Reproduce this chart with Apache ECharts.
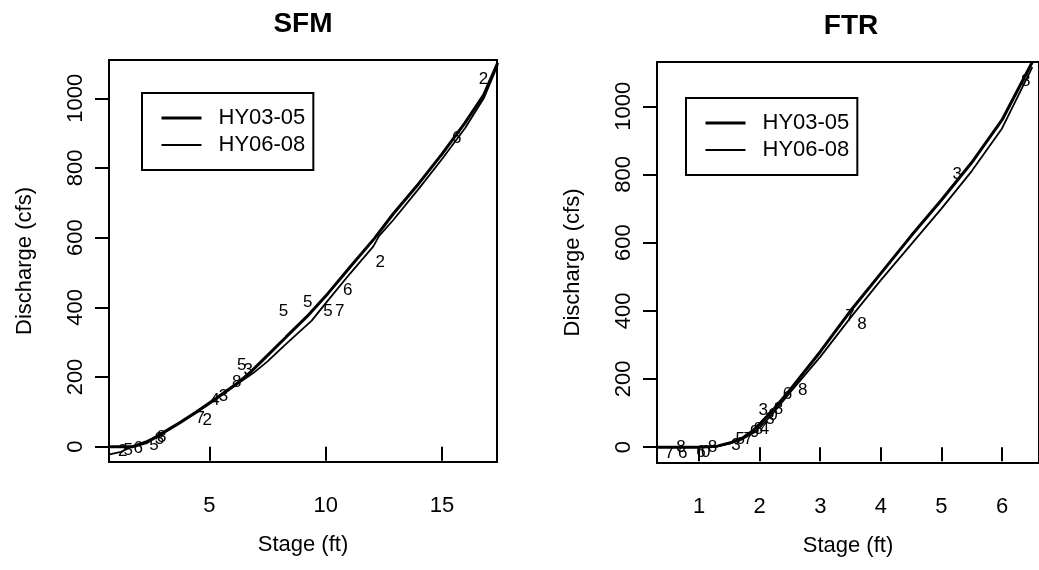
<!DOCTYPE html>
<html>
<head>
<meta charset="utf-8">
<script src="https://cdn.jsdelivr.net/npm/echarts@6/dist/echarts.min.js"></script>
<style>
html, body { margin: 0; padding: 0; background: #fff; }
#chart { width: 1039px; height: 570px; }
</style>
</head>
<body>
<div id="chart"></div>
<script>
var FONT = '"Liberation Sans", Arial, Helvetica, sans-serif';

var seriesNames = ['HY03-05', 'HY06-08'];
var lineWidths = [3, 1.8];
var panelTitles = ['SFM', 'FTR'];
var axisTitleX = 'Stage (ft)';
var axisTitleY = 'Discharge (cfs)';

// tick labels
var sfmStageTicks = [5, 10, 15];
var ftrStageTicks = [1, 2, 3, 4, 5, 6];
var dischargeTicks = [0, 200, 400, 600, 800, 1000];

// SFM rating curves [stage, discharge]
var sfm0305 = [[0.7, 0], [1.7, 0], [2.3, 12], [2.9, 36], [3.7, 68], [4.45, 100], [5.2, 135],
  [6.2, 182], [6.8, 216], [7.5, 262], [8.3, 315], [9.2, 374], [10.1, 440], [11.05, 516],
  [12.1, 598], [12.9, 668], [14, 755], [15, 840], [16, 930], [16.8, 1010], [17.4, 1102]];
var sfm0608 = [[0.7, -22], [1.2, -15], [1.7, 2], [2.3, 16], [2.9, 34], [3.7, 66], [4.45, 98],
  [5.2, 132], [6.2, 180], [6.9, 212], [7.5, 245], [8.3, 295], [9.4, 362], [10.1, 420],
  [11.05, 497], [12.05, 575], [12.3, 605], [12.9, 650], [14, 740], [15, 825], [16, 915],
  [16.8, 1000], [17.4, 1095]];
// SFM measurements [stage, discharge, year digit]
var sfmPts = [[1.27, -13, '2'], [1.51, -11, '5'], [1.94, -6, '6'], [2.62, 3, '5'],
  [2.85, 22, '3'], [2.95, 28, '8'], [4.6, 80, '7'], [4.91, 76, '2'], [5.24, 133, '4'],
  [5.6, 145, '3'], [6.17, 186, '8'], [6.39, 234, '5'], [6.67, 219, '3'], [8.19, 389, '5'],
  [9.23, 415, '5'], [10.1, 389, '5'], [10.6, 389, '7'], [10.95, 449, '6'], [12.35, 530, '2'],
  [15.64, 885, '6'], [16.79, 1054, '2']];

// FTR rating curves [stage, discharge]
var ftr0305 = [[0.3, 0], [1.0, 0], [1.3, 3], [1.5, 12], [1.7, 25], [1.9, 50], [2.0, 68],
  [2.2, 105], [2.5, 168], [3.0, 280], [3.5, 400], [4.0, 510], [4.5, 620], [5.0, 725],
  [5.5, 835], [6.0, 960], [6.5, 1130]];
var ftr0608 = [[0.3, 0], [1.0, 0], [1.3, 2], [1.5, 10], [1.7, 22], [1.9, 42], [2.0, 58],
  [2.2, 95], [2.5, 160], [3.0, 265], [3.5, 380], [4.0, 490], [4.5, 595], [5.0, 700],
  [5.5, 810], [6.0, 935], [6.5, 1115]];
// FTR measurements [stage, discharge, year digit]
var ftrPts = [[0.51, -17, '7'], [0.7, 0, '8'], [0.73, -17, '6'], [1.03, -15, '6'],
  [1.11, -15, '0'], [1.22, 0, '8'], [1.61, 4, '3'], [1.68, 23, '5'], [1.81, 23, '7'],
  [1.92, 43, '9'], [1.98, 53, '8'], [2.08, 53, '4'], [2.06, 107, '3'], [2.17, 82, '3'],
  [2.22, 94, '0'], [2.31, 110, '8'], [2.46, 156, '6'], [2.71, 168, '8'], [3.49, 384, '7'],
  [3.69, 360, '8'], [5.26, 800, '3'], [6.39, 1073, '8']];

var chart = echarts.init(document.getElementById('chart'));

function xAxisFor(idx, min, max, ticks) {
  return {
    type: 'value', gridIndex: idx, min: min, max: max,
    axisLine: { show: false },
    axisTick: { show: true, inside: false, length: 14, customValues: ticks,
      lineStyle: { color: '#000', width: 2 } },
    axisLabel: { customValues: ticks, margin: 33, fontSize: 22, color: '#000', fontFamily: FONT },
    splitLine: { show: false },
    name: axisTitleX, nameLocation: 'middle', nameGap: 72,
    nameTextStyle: { fontSize: 22, color: '#000', fontFamily: FONT }
  };
}

function yAxisFor(idx, min, max) {
  return {
    type: 'value', gridIndex: idx, min: min, max: max,
    axisLine: { show: false },
    axisTick: { show: true, inside: false, length: 14, customValues: dischargeTicks,
      lineStyle: { color: '#000', width: 2 } },
    axisLabel: { customValues: dischargeTicks, rotate: 90, margin: 22, fontSize: 22,
      color: '#000', fontFamily: FONT,
      formatter: function (v) { return String(v); } },
    splitLine: { show: false },
    name: axisTitleY, nameLocation: 'middle', nameGap: 73,
    nameTextStyle: { fontSize: 22, color: '#000', fontFamily: FONT }
  };
}

function curve(k, idx, data) {
  return {
    name: seriesNames[k], type: 'line', xAxisIndex: idx, yAxisIndex: idx,
    data: data, symbol: 'none', smooth: false,
    lineStyle: { color: '#000', width: lineWidths[k] }, itemStyle: { color: '#000' }
  };
}

function points(idx, data) {
  return {
    name: 'obs' + idx, type: 'scatter', xAxisIndex: idx, yAxisIndex: idx,
    data: data, symbolSize: 0.1, itemStyle: { color: '#fff' },
    label: { show: true, position: 'inside', fontSize: 17, color: '#000', opacity: 1,
      textBorderWidth: 0, fontFamily: FONT,
      formatter: function (p) { return p.value[2]; } }
  };
}

function legendAt(left, top) {
  return {
    data: seriesNames.map(function (n, k) {
      return { name: n, lineStyle: { color: '#000', width: lineWidths[k] } };
    }),
    left: left, top: top, orient: 'vertical',
    selectedMode: false, itemWidth: 40, itemHeight: 14, itemGap: 5,
    padding: [14, 8, 14, 18],
    borderColor: '#000', borderWidth: 2, borderRadius: 0,
    itemStyle: { opacity: 0 },
    textStyle: { fontSize: 22, color: '#000', fontFamily: FONT, padding: [0, 0, 0, 12] }
  };
}

var option = {
  backgroundColor: '#fff',
  animation: false,
  title: [
    { text: panelTitles[0], left: 303, top: 10, textAlign: 'center', padding: 0,
      textStyle: { fontSize: 28, fontWeight: 'bold', color: '#000', fontFamily: FONT } },
    { text: panelTitles[1], left: 851, top: 12, textAlign: 'center', padding: 0,
      textStyle: { fontSize: 28, fontWeight: 'bold', color: '#000', fontFamily: FONT } }
  ],
  legend: [legendAt(142, 93), legendAt(686, 98)],
  grid: [
    { left: 109, top: 60, width: 388, height: 402, show: true,
      borderColor: '#000', borderWidth: 2, backgroundColor: 'transparent' },
    { left: 657, top: 62, width: 388, height: 401, show: true,
      borderColor: '#000', borderWidth: 2, backgroundColor: 'transparent' }
  ],
  xAxis: [xAxisFor(0, 0.68, 17.37, sfmStageTicks), xAxisFor(1, 0.306, 6.61, ftrStageTicks)],
  yAxis: [yAxisFor(0, -44, 1110), yAxisFor(1, -46.5, 1130)],
  series: [
    curve(0, 0, sfm0305),
    curve(1, 0, sfm0608),
    points(0, sfmPts),
    curve(0, 1, ftr0305),
    curve(1, 1, ftr0608),
    points(1, ftrPts)
  ]
};

chart.setOption(option);
</script>
</body>
</html>
